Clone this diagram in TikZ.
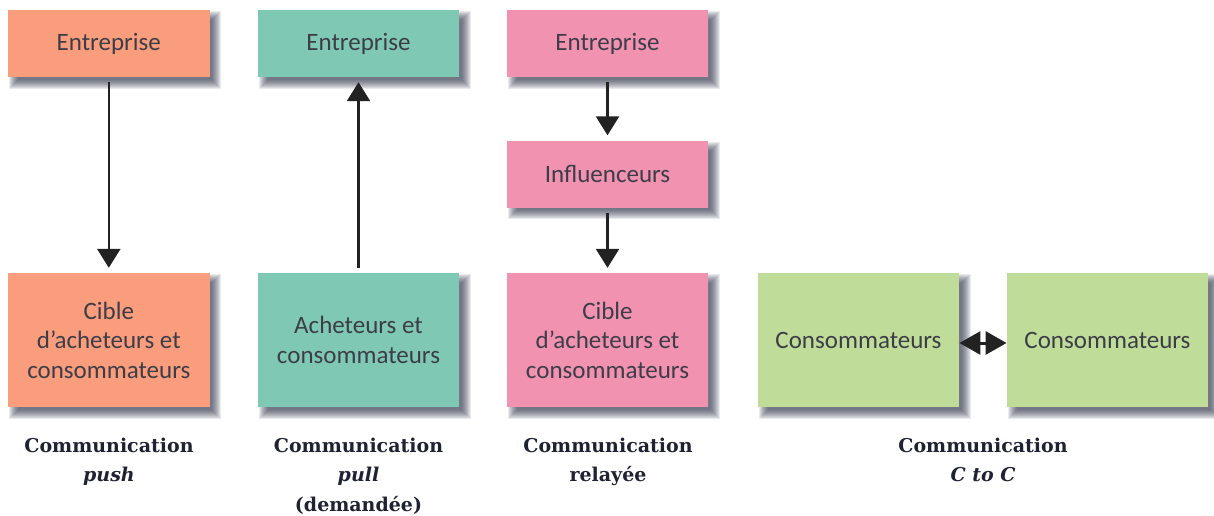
\documentclass[tikz,border=0pt]{standalone}
\usepackage{fontspec}
\setmainfont{Carlito}
\newfontfamily\capfont{DejaVu Serif}
\usetikzlibrary{arrows.meta,backgrounds}
\definecolor{orangebox}{HTML}{F99D7C}
\definecolor{tealbox}{HTML}{7FC9B4}
\definecolor{pinkbox}{HTML}{F092B0}
\definecolor{greenbox}{HTML}{BFDC98}
\definecolor{inktext}{HTML}{3D3D48}
\definecolor{inkarrow}{HTML}{222222}
\definecolor{capink}{HTML}{1F2233}
\definecolor{shadowink}{HTML}{30344A}
\tikzset{
  card/.style={rectangle,minimum width=201.5pt,inner sep=0pt,align=center,
    text=inktext,font=\fontsize{25}{29.5}\selectfont},
  topcard/.style={card,minimum height=67pt},
  tallcard/.style={card,minimum height=134pt},
  caption/.style={align=center,anchor=north,text=capink,inner sep=0pt,
    font=\capfont\bfseries\fontsize{19}{29.5}\selectfont},
  arrowline/.style={draw=inkarrow,line width=2.6pt,
    -{Triangle[width=23pt,length=19pt,fill=inkarrow]},shorten <=5pt,shorten >=5pt}
}
\begin{document}
\begin{tikzpicture}[x=1pt,y=-1pt]
\useasboundingbox (0,0) rectangle (1214,516);
\node[topcard,fill=orangebox] (e1) at (108.8,43.5) {Entreprise};
\node[tallcard,fill=orangebox] (c1) at (108.8,340) {Cible\\d’acheteurs et\\consommateurs};
\node[topcard,fill=tealbox] (e2) at (358.5,43.5) {Entreprise};
\node[tallcard,fill=tealbox] (c2) at (358.5,340) {Acheteurs et\\consommateurs};
\node[topcard,fill=pinkbox] (e3) at (607.5,43.5) {Entreprise};
\node[topcard,fill=pinkbox] (i3) at (607.5,174) {Influenceurs};
\node[tallcard,fill=pinkbox] (c3) at (607.5,340) {Cible\\d’acheteurs et\\consommateurs};
\node[tallcard,fill=greenbox] (g1) at (858.5,340) {Consommateurs};
\node[tallcard,fill=greenbox] (g2) at (1107.5,340) {Consommateurs};
\begin{scope}[on background layer]
  \fill[white] (0,0) rectangle (1214,516);
  \foreach \n in {e1,c1,e2,c2,e3,i3,c3,g1,g2}{
    \foreach \k in {5,4,3,2,1,0,-1,-2,-3,-4}{
      \fill[shadowink,opacity=.10]
        ([xshift={6.5pt-\k*1pt},yshift={-6.5pt+\k*1pt}]\n.north west) rectangle
        ([xshift={6.5pt+\k*1pt},yshift={-6.5pt-\k*1pt}]\n.south east);
    }
  }
\end{scope}
\draw[arrowline] (e1) -- (c1);
\draw[arrowline] (c2) -- (e2);
\draw[arrowline] (e3) -- (i3);
\draw[arrowline] (i3) -- (c3);
\draw[draw=inkarrow,line width=3pt,{Triangle[width=23pt,length=21pt,fill=inkarrow]}-{Triangle[width=23pt,length=21pt,fill=inkarrow]}]
  ([yshift=-3pt]g1.east) -- ([yshift=-3pt]g2.west);
\node[caption] (t1) at (109,437.5) {Communication\\\itshape push};
\node[caption] (t2) at (358.5,437.5) {Communication\\\itshape pull\\(demandée)};
\node[caption] (t3) at (608,437.5) {Communication\\relayée};
\node[caption] (t4) at (983,437.5) {Communication\\\itshape C to C};
\end{tikzpicture}
\end{document}
